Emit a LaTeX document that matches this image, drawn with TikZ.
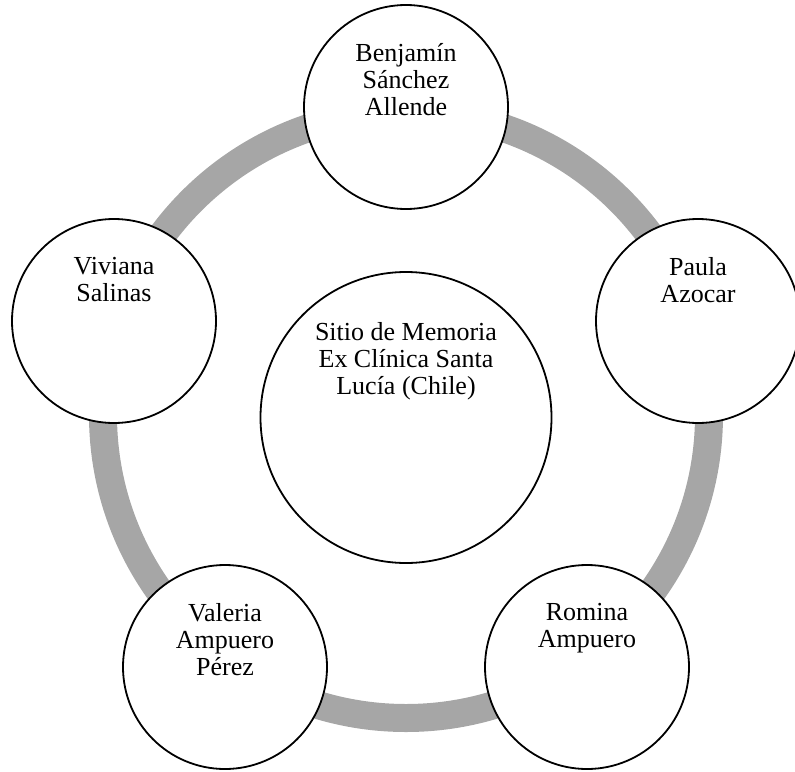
\documentclass[tikz,border=0pt]{standalone}
\usepackage{fontspec}
\setmainfont{Liberation Serif}
\definecolor{ringgray}{HTML}{A6A6A6}
\begin{document}
\begin{tikzpicture}[x=1pt,y=-1pt,
  person/.style={circle, draw=black, line width=1.8pt, fill=white, minimum size=204pt, inner sep=0pt},
  hub/.style={person, minimum size=291pt},
  lbl/.style={align=center, inner sep=0pt, anchor=north, font=\fontsize{26}{27}\selectfont,
              execute at begin node=\rule{0pt}{20pt}},
  ringline/.style={draw=ringgray, line width=28pt}]
\useasboundingbox (0,0) rectangle (795,771);
\coordinate (c) at (406,415);
\draw[ringline] (c) circle[radius=303];
\node[hub] (hub) at (406,417.5) {};
\node[person] (p1) at (406,107) {};
\node[person] (p2) at (698,321) {};
\node[person] (p3) at (587,667) {};
\node[person] (p4) at (225,667) {};
\node[person] (p5) at (114,321) {};
\node[lbl] (thub) at ([yshift=95.5pt]hub.center) {Sitio de Memoria\\Ex Clínica Santa\\Lucía (Chile)};
\node[lbl] (t1) at ([yshift=63.5pt]p1.center) {Benjamín\\Sánchez\\Allende};
\node[lbl] (t2) at ([yshift=63.5pt]p2.center) {Paula\\Azocar};
\node[lbl] (t3) at ([yshift=63.5pt]p3.center) {Romina\\Ampuero};
\node[lbl] (t4) at ([yshift=63.5pt]p4.center) {Valeria\\Ampuero\\Pérez};
\node[lbl] (t5) at ([yshift=63.5pt]p5.center) {Viviana\\Salinas};
\end{tikzpicture}
\end{document}
